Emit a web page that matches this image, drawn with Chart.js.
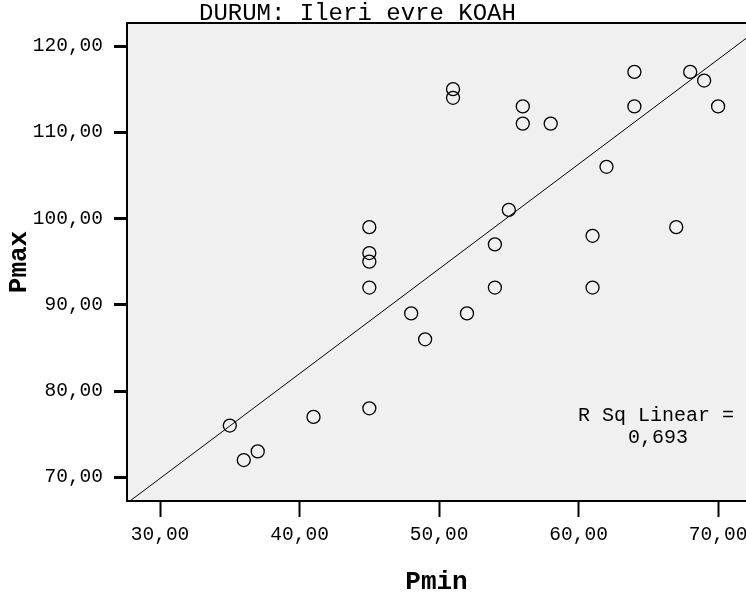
<!DOCTYPE html>
<html>
<head>
<meta charset="utf-8">
<script src="https://cdn.jsdelivr.net/npm/chart.js@4/dist/chart.umd.min.js"></script>
<style>
  html, body { margin: 0; padding: 0; background: #fff; overflow: hidden; }
</style>
</head>
<body>
<canvas id="scatter" width="746" height="604"></canvas>
<script>
// Pmin / Pmax pairs
const pmin = [35, 36, 37, 41, 45, 45, 45, 45, 45, 48, 49, 51, 51, 52, 54, 54, 55, 56, 56, 58, 61, 61, 62, 64, 64, 67, 68, 69, 70];
const pmax = [76, 72, 73, 77, 99, 96, 95, 92, 78, 89, 86, 115, 114, 89, 92, 97, 101, 113, 111, 111, 98, 92, 106, 117, 113, 99, 117, 116, 113];

// fit line end points (as drawn by SPSS)
const fitX = [27.84, 72.0];
const fitY = [67.25, 120.88];

const xTicks = [30, 40, 50, 60, 70];
const yTicks = [70, 80, 90, 100, 110, 120];

const titleText = 'DURUM: Ileri evre KOAH';
const rsqLabel = 'R Sq Linear =';
const rsqValue = '0,693';

const MONO = '"Liberation Mono", "DejaVu Sans Mono", monospace';
const fmt = v => v.toFixed(2).replace('.', ',');

const points = pmin.map((x, i) => ({ x: x, y: pmax[i] }));
const fitLine = fitX.map((x, i) => ({ x: x, y: fitY[i] }));

const frame = {
    id: 'frame',
    beforeDraw(chart) {
        const { ctx, chartArea: a } = chart;
        ctx.save();
        ctx.fillStyle = '#f0f0f0';
        ctx.fillRect(a.left, a.top, a.right - a.left, a.bottom - a.top);
        ctx.restore();
    },
    afterDraw(chart) {
        const { ctx, chartArea: a } = chart;
        ctx.save();
        // top edge of the frame
        ctx.strokeStyle = '#000';
        ctx.lineWidth = 2;
        ctx.beginPath();
        ctx.moveTo(a.left, a.top);
        ctx.lineTo(a.right, a.top);
        ctx.stroke();

        ctx.fillStyle = '#000';
        ctx.font = '24px ' + MONO;
        ctx.textAlign = 'left';
        ctx.textBaseline = 'alphabetic';
        ctx.fillText(titleText, a.left + 72, a.top - 3);

        ctx.font = '20px ' + MONO;
        ctx.textAlign = 'center';
        ctx.textBaseline = 'middle';
        ctx.fillText(rsqLabel, a.left + 529, a.bottom - 85);
        ctx.fillText(rsqValue, a.left + 531, a.bottom - 63);
        ctx.restore();
    }
};

const ctx = document.getElementById('scatter').getContext('2d');
new Chart(ctx, {
    type: 'scatter',
    data: {
        datasets: [{
            label: 'Pmax',
            data: points,
            pointStyle: 'circle',
            pointRadius: 6.5,
            pointHoverRadius: 6.5,
            pointBorderWidth: 1.3,
            pointBackgroundColor: 'rgba(0,0,0,0)',
            pointBorderColor: '#000',
        },
        {
            type: 'line',
            label: 'Fit',
            data: fitLine,
            borderColor: '#000',
            borderWidth: 1,
            pointRadius: 0,
            fill: false,
        }]
    },
    options: {
        responsive: false,
        animation: false,
        layout: { autoPadding: false, padding: { top: 23, right: 0, left: 0, bottom: 0 } },
        plugins: {
            legend: { display: false },
            tooltip: { enabled: false },
            title: { display: false }
        },
        scales: {
            x: {
                type: 'linear',
                min: 27.63,
                max: 72.0,
                afterBuildTicks: s => { s.ticks = xTicks.map(v => ({ value: v })); },
                afterFit: s => { s.height = 103; s.paddingLeft = 0; s.paddingRight = 0; },
                grid: { drawOnChartArea: false, tickLength: 16, tickWidth: 2, tickColor: '#000' },
                border: { display: true, color: '#000', width: 2 },
                ticks: {
                    color: '#000',
                    padding: 6,
                    maxRotation: 0,
                    autoSkip: false,
                    font: { family: MONO, size: 19.5 },
                    callback: v => fmt(v)
                },
                title: {
                    display: true,
                    text: 'Pmin',
                    color: '#000',
                    padding: { top: 0, bottom: 6 },
                    font: { family: MONO, size: 26, weight: 'bold' }
                }
            },
            y: {
                type: 'linear',
                min: 67.25,
                max: 122.67,
                afterBuildTicks: s => { s.ticks = yTicks.map(v => ({ value: v })); },
                afterFit: s => { s.width = 127; },
                grid: { drawOnChartArea: false, tickLength: 13, tickWidth: 3, tickColor: '#000' },
                border: { display: true, color: '#000', width: 2 },
                ticks: {
                    color: '#000',
                    padding: 11,
                    autoSkip: false,
                    font: { family: MONO, size: 19.5 },
                    callback: v => fmt(v)
                },
                title: {
                    display: true,
                    text: 'Pmax',
                    color: '#000',
                    padding: { top: 4, bottom: 0 },
                    font: { family: MONO, size: 26, weight: 'bold' }
                }
            }
        }
    },
    plugins: [frame]
});
</script>
</body>
</html>
